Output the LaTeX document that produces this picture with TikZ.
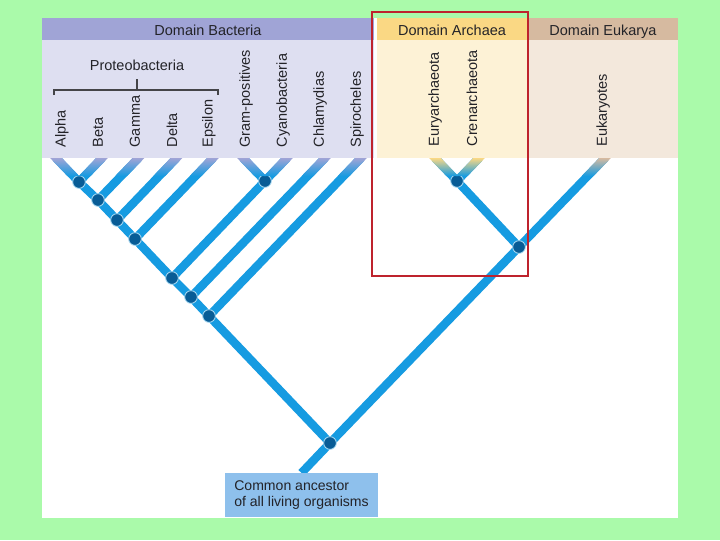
\documentclass[tikz,border=0pt]{standalone}
\usepackage{fontspec}
\setmainfont{Liberation Sans}
\usetikzlibrary{calc,backgrounds}
\definecolor{meadow}{RGB}{170,250,170}
\definecolor{bachead}{RGB}{160,164,214}
\definecolor{bacbody}{RGB}{222,223,241}
\definecolor{archead}{RGB}{250,216,132}
\definecolor{arcbody}{RGB}{253,242,214}
\definecolor{euhead}{RGB}{214,186,160}
\definecolor{eubody}{RGB}{243,232,220}
\definecolor{branch}{RGB}{22,155,225}
\definecolor{knot}{RGB}{8,92,150}
\definecolor{rootbox}{RGB}{142,192,236}
\definecolor{frame}{RGB}{190,35,45}
\definecolor{ink}{RGB}{35,35,40}
\tikzset{
  limb/.style={line width=6pt,draw=branch},
  fork/.style={circle,fill=knot,draw=branch!35,line width=0.6pt,inner sep=0pt,minimum size=9pt},
  heading/.style={font=\fontsize{10.3}{12}\selectfont,text=ink,text height=0.72em,text depth=0.22em},
  taxon/.style={rotate=90,anchor=west,inner sep=1pt,font=\fontsize{10.3}{12}\selectfont,text=ink},
  bracket/.style={draw=ink!85,line width=0.8pt},
  ancestor box/.style={fill=rootbox,minimum width=108.5pt,minimum height=31pt,
    align=left,font=\fontsize{10}{11}\selectfont,text=ink},
}

\begin{document}
\begin{tikzpicture}[x=0.025cm,y=-0.025cm]
    \begin{scope}[on background layer]
      \fill[meadow] (0,0) rectangle (720,540);
      \fill[white] (42,18) rectangle (678,518);
    \end{scope}
    % domain panels
    \fill[bacbody] (42,40) rectangle (374,158); \fill[bachead] (42,18) rectangle (374,40);
    \fill[arcbody] (377,40) rectangle (527,158); \fill[archead] (377,18) rectangle (527,40);
    \fill[eubody] (528,40) rectangle (678,158); \fill[euhead] (528,18) rectangle (678,40);
    \node[heading] (bacteria) at (208,31.5) {Domain Bacteria};
    \node[heading] (archaea) at (452,31.5) {Domain Archaea};
    \node[heading] (eukarya) at (603,31.5) {Domain Eukarya};
    \node[heading] (proteolab) at (137,67) {Proteobacteria};
    \draw[bracket] (54,95) -- (54,90) -- (218,90) -- (218,95) (137,90) -- (proteolab.south);
    \foreach \n/\x/\t in {alpha/62/Alpha,beta/98/Beta,gamma/135/Gamma,delta/172/Delta,epsilon/209/Epsilon,
      gram/246/Gram-positives,cyano/283/Cyanobacteria,chlam/320/Chlamydias,spiro/357/Spirocheles}
      \node[taxon] (\n-lab) at (\x,149) {\t};
    \foreach \n/\x/\t in {eury/435/Euryarchaeota,cren/472/Crenarchaeota,euk/603/Eukaryotes}
      \node[taxon] (\n-lab) at (\x,148) {\t};
    % tree
    \foreach \n/\x in {alpha/56,beta/102,gamma/138.5,delta/176.5,epsilon/213,gram/243,cyano/287,
      chlam/325,spiro/361,eury/435,cren/479,euk/605}
      \coordinate (\n) at (\x,158);
    \node[fork] (ab) at (79,182) {};
    \node[fork] (abg) at (98,200) {};
    \node[fork] (abgd) at (117,220) {};
    \node[fork] (proteo) at (135,239) {};
    \node[fork] (gc) at (265,181) {};
    \node[fork] (pgc) at (172,278) {};
    \node[fork] (pgcc) at (191,297) {};
    \node[fork] (bact) at (209,316) {};
    \node[fork] (ec) at (457,181) {};
    \node[fork] (ae) at (519,247) {};
    \node[fork] (root) at (330,443) {};
    \node[ancestor box] (ancestor) at (301.5,495) {Common ancestor\\of all living organisms};
    \begin{scope}[on background layer]
      \draw[limb] (alpha) -- (ab.center) -- (abg.center) -- (abgd.center) -- (proteo.center) -- (pgc.center)
        -- (pgcc.center) -- (bact.center) -- (root.center);
      \draw[limb] (beta) -- (ab.center) (gamma) -- (abg.center) (delta) -- (abgd.center) (epsilon) -- (proteo.center);
      \draw[limb] (gram) -- (gc.center) -- (cyano) (gc.center) -- (pgc.center) (chlam) -- (pgcc.center) (spiro) -- (bact.center);
      \draw[limb] (eury) -- (ec.center) -- (cren) (ec.center) -- (ae.center) -- (euk) (ae.center) -- (root.center) -- (ancestor.north);
    \end{scope}
    \foreach \n/\s/\c in {alpha/1/bachead,beta/-1/bachead,gamma/-1/bachead,delta/-1/bachead,epsilon/-1/bachead,
      gram/1/bachead,cyano/-1/bachead,chlam/-1/bachead,spiro/-1/bachead,eury/1/archead,cren/-1/archead,euk/-1/euhead}
      \shade[top color=\c,bottom color=branch] ($(\n)+(-5.9,0)$) -- ($(\n)+(5.9,0)$)
        -- ($(\n)+(\s*17.3+5.9,18)$) -- ($(\n)+(\s*17.3-5.9,18)$) -- cycle;
    \draw[frame,line width=0.8pt] (372,12) rectangle (528,276);
  \end{tikzpicture}
\end{document}
